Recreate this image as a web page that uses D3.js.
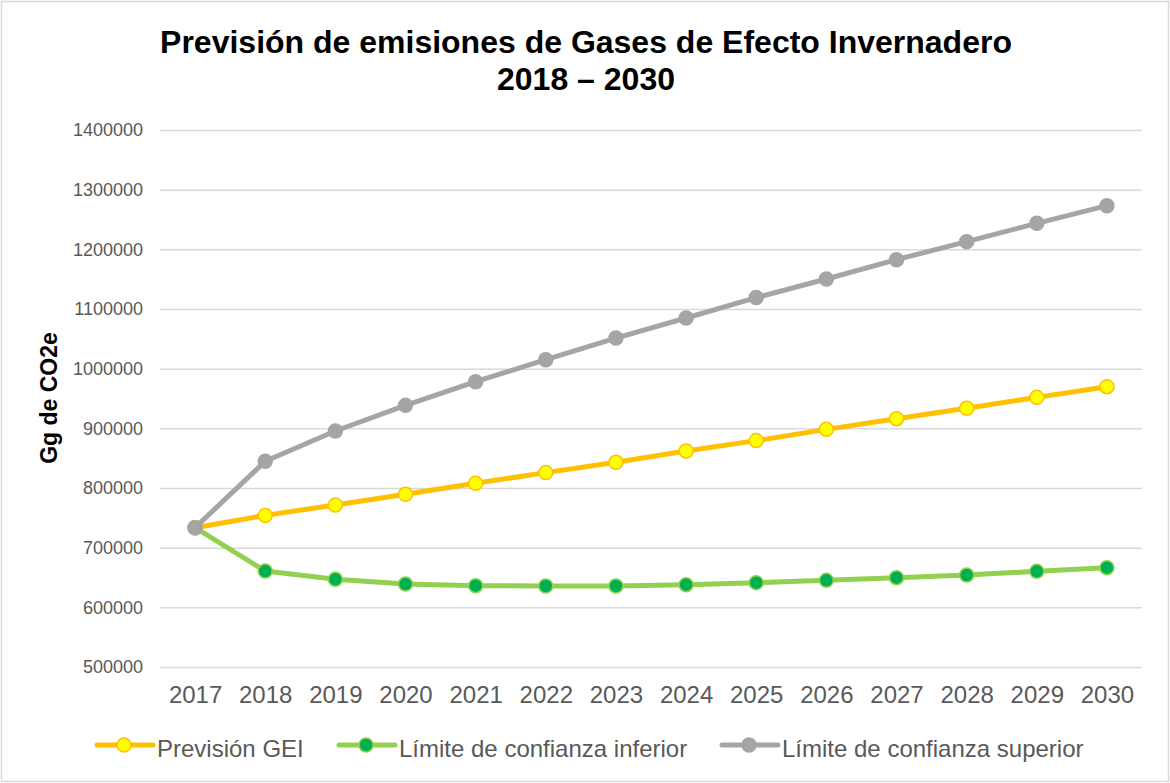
<!DOCTYPE html>
<html lang="es">
<head>
<meta charset="utf-8">
<script src="https://cdn.jsdelivr.net/npm/d3@7"></script>
<style>
  body { margin: 0; background: #fff; font-family: "Liberation Sans", Arial, sans-serif; }
  .grid line { stroke: #d9d9d9; stroke-width: 1.5; }
  .grid .domain { display: none; }
  .axis text { fill: #595959; }
  .axis .domain, .axis line { display: none; }
</style>
</head>
<body>
<svg id="chart" width="1170" height="783"></svg>
<script>
// data
var years = ["2017","2018","2019","2020","2021","2022","2023","2024","2025","2026","2027","2028","2029","2030"];
var prevision = [733500, 754100, 771500, 789400, 807900, 825800, 843000, 862000, 879400, 898300, 916200, 933500, 951900, 969800];
var limInferior = [733500, 660800, 646900, 639000, 636300, 635700, 635700, 638000, 641400, 645200, 649700, 654100, 660300, 666500];
var limSuperior = [733500, 844700, 895500, 938500, 978100, 1015100, 1051300, 1084900, 1119100, 1150300, 1182700, 1212900, 1243600, 1273200];
var yTicks = [500000, 600000, 700000, 800000, 900000, 1000000, 1100000, 1200000, 1300000, 1400000];

var series = [
  { name: "Previsión GEI", values: prevision, line: "#ffc000", fill: "#ffff00", stroke: "#ffc000" },
  { name: "Límite de confianza inferior", values: limInferior, line: "#92d050", fill: "#00b050", stroke: "#92d050" },
  { name: "Límite de confianza superior", values: limSuperior, line: "#a5a5a5", fill: "#a5a5a5", stroke: "#a5a5a5" }
];

var svg = d3.select("#chart");
var W = 1170, H = 783;
var mLeft = 160, mRight = 1142, mTop = 130, mBottom = 667;

svg.append("rect")
  .attr("x", 1.5).attr("y", 1.5)
  .attr("width", W - 3).attr("height", H - 3)
  .attr("fill", "#fff").attr("stroke", "#d9d9d9").attr("stroke-width", 1.5);

// title
var title = svg.append("text")
  .attr("text-anchor", "middle")
  .attr("font-weight", "bold")
  .attr("font-size", 32)
  .attr("fill", "#000");
title.append("tspan").attr("x", 586).attr("y", 53).text("Previsión de emisiones de Gases de Efecto Invernadero");
title.append("tspan").attr("x", 586).attr("y", 90).text("2018 – 2030");

var x = d3.scalePoint().domain(years).range([mLeft, mRight]).padding(0.5);
var y = d3.scaleLinear().domain([500000, 1400000]).range([mBottom, mTop]);

svg.append("g")
  .attr("class", "grid")
  .attr("transform", "translate(" + mLeft + ",0)")
  .call(d3.axisLeft(y).tickValues(yTicks).tickSize(-(mRight - mLeft)).tickFormat(""));

svg.append("g")
  .attr("class", "axis")
  .attr("transform", "translate(143,0)")
  .call(d3.axisLeft(y).tickValues(yTicks).tickSize(0).tickPadding(0).tickFormat(d3.format("d")))
  .selectAll("text")
  .attr("font-size", 18)
  .attr("font-family", "Liberation Sans, Arial, sans-serif");

svg.append("g")
  .attr("class", "axis")
  .attr("transform", "translate(0," + mBottom + ")")
  .call(d3.axisBottom(x).tickSize(0).tickPadding(19))
  .selectAll("text")
  .attr("font-size", 24)
  .attr("font-family", "Liberation Sans, Arial, sans-serif");

// y axis title
svg.append("text")
  .attr("transform", "translate(57,398) rotate(-90)")
  .attr("text-anchor", "middle")
  .attr("font-weight", "bold")
  .attr("font-size", 23)
  .attr("fill", "#000")
  .text("Gg de CO2e");

var line = d3.line()
  .x(function(d, i) { return x(years[i]); })
  .y(function(d) { return y(d); });

series.forEach(function(s) {
  var g = svg.append("g");
  g.append("path")
    .datum(s.values)
    .attr("d", line)
    .attr("fill", "none")
    .attr("stroke", s.line)
    .attr("stroke-width", 5)
    .attr("stroke-linejoin", "round")
    .attr("stroke-linecap", "round");
  g.selectAll("circle")
    .data(s.values)
    .enter().append("circle")
    .attr("cx", function(d, i) { return x(years[i]); })
    .attr("cy", function(d) { return y(d); })
    .attr("r", 7)
    .attr("fill", s.fill)
    .attr("stroke", s.stroke)
    .attr("stroke-width", 1.5);
});

// legend
var legendX = [97, 339, 722];
var legendY = 745;
series.forEach(function(s, i) {
  var lg = svg.append("g").attr("transform", "translate(" + legendX[i] + "," + legendY + ")");
  lg.append("line")
    .attr("x1", 0).attr("x2", 56).attr("y1", 0).attr("y2", 0)
    .attr("stroke", s.line).attr("stroke-width", 5).attr("stroke-linecap", "round");
  lg.append("circle")
    .attr("cx", 27).attr("cy", 0).attr("r", 7)
    .attr("fill", s.fill).attr("stroke", s.stroke).attr("stroke-width", 1.5);
  lg.append("text")
    .attr("x", 60).attr("y", 12)
    .attr("font-size", 24)
    .attr("fill", "#595959")
    .text(s.name);
});
</script>
</body>
</html>
